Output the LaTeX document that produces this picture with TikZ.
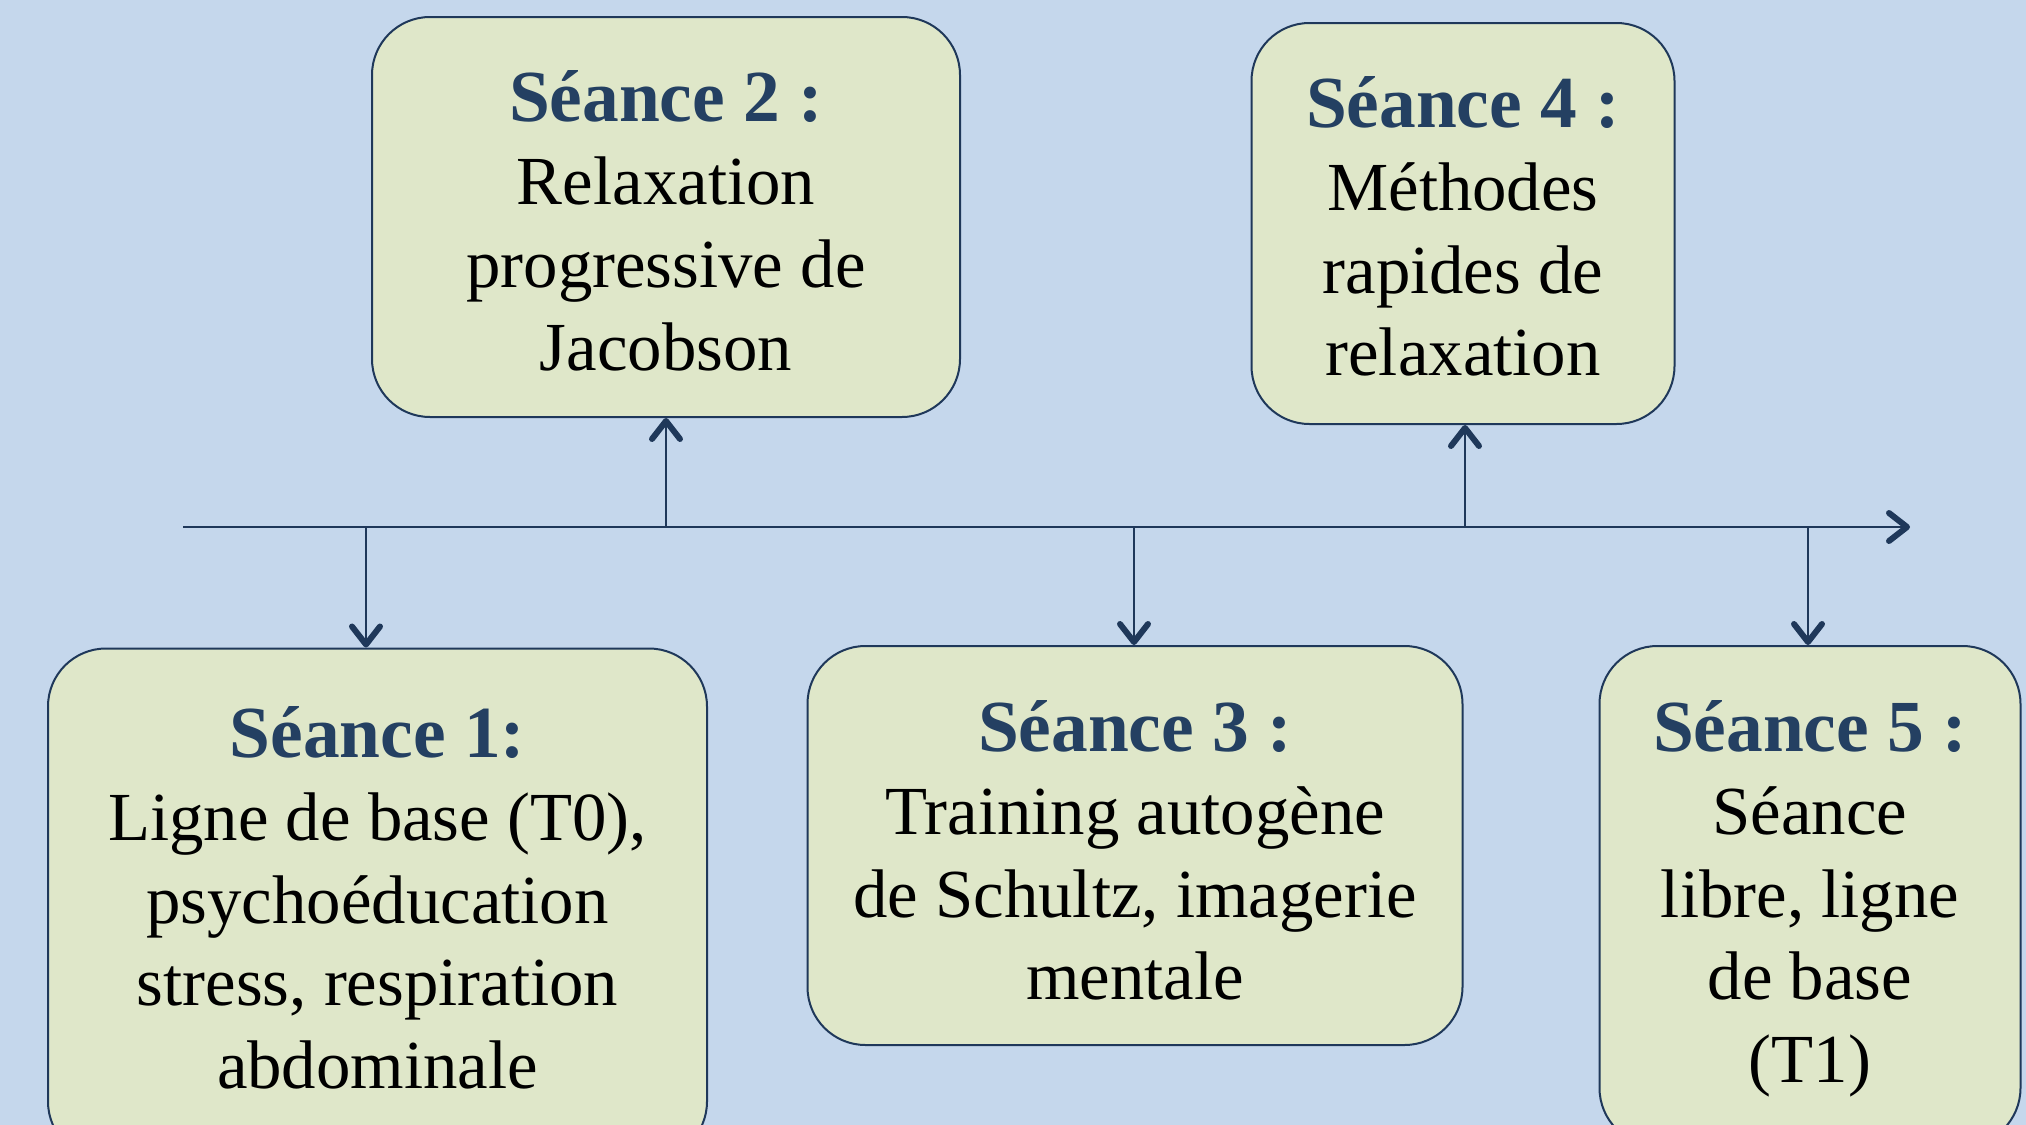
\documentclass[tikz,border=0pt]{standalone}
\usepackage{fontspec}
\setmainfont{Liberation Serif}
\usetikzlibrary{arrows.meta}
\definecolor{bgc}{HTML}{C5D7EC}
\definecolor{boxfill}{HTML}{DFE7C9}
\definecolor{edgec}{HTML}{1F385A}
\definecolor{titlec}{HTML}{244062}
\newcommand\seancetitle[1]{{\fontsize{36.7}{41.4}\selectfont\bfseries\color{titlec}#1}}
\tikzset{
  stagebox/.style={draw=edgec, line width=1pt, fill=boxfill, rounded corners=29pt, inner sep=0pt},
  stagetext/.style={align=center, inner sep=0pt, text=black, font=\fontsize{34.4}{41.4}\selectfont},
  arr/.style={draw=edgec, line width=1pt, -{Straight Barb[length=9pt,width=14pt,line width=3pt,round]}}
}
\begin{document}
\begin{tikzpicture}[x=0.5pt,y=-0.5pt]
\path[use as bounding box] (0,0) rectangle (2026,1125);
\clip (0,0) rectangle (2026,1125);
\fill[bgc] (0,0) rectangle (2026,1125);

\node[stagebox, minimum width=294pt, minimum height=200pt] (b2) at (666,217) {};
\node[stagetext] (b2t) at ([yshift=-2pt]b2.center)
  {\seancetitle{Séance 2 :}\\Relaxation\\progressive de\\Jacobson};
\node[stagebox, minimum width=211.5pt, minimum height=200.5pt] (b4) at (1463,223.5) {};
\node[stagetext] (b4t) at ([yshift=-1.5pt]b4.center)
  {\seancetitle{Séance 4 :}\\Méthodes\\rapides de\\relaxation};
\node[stagebox, minimum width=329.5pt, minimum height=255.5pt] (b1) at (377.5,904) {};
\node[stagetext] (b1t) at ([yshift=3pt]b1.center)
  {\seancetitle{Séance 1:}\\Ligne de base (T0),\\psychoéducation\\stress, respiration\\abdominale};
\node[stagebox, minimum width=327.5pt, minimum height=199.5pt] (b3) at (1135,845.5) {};
\node[stagetext] (b3t) at ([yshift=-2.5pt]b3.center)
  {\seancetitle{Séance 3 :}\\Training autogène\\de Schultz, imagerie\\mentale};
\node[stagebox, minimum width=210.5pt, minimum height=250pt] (b5) at (1810,896) {};
\node[stagetext] (b5t) at ([yshift=-1.5pt]b5.center)
  {\seancetitle{Séance 5 :}\\Séance\\libre, ligne\\de base\\(T1)};

\coordinate (ts) at (183,527);
\coordinate (te) at (1910,527);
\coordinate (t1) at (366,527);
\coordinate (t2) at (666,527);
\coordinate (t3) at (1134,527);
\coordinate (t4) at (1465,527);
\coordinate (t5) at (1808,527);

\draw[arr] (ts) -- (te);
\draw[arr] (t1) -- (t1 |- b1.north);
\draw[arr] (t2) -- (t2 |- b2.south);
\draw[arr] (t3) -- (t3 |- b3.north);
\draw[arr] (t4) -- (t4 |- b4.south);
\draw[arr] (t5) -- (t5 |- b5.north);
\end{tikzpicture}
\end{document}
